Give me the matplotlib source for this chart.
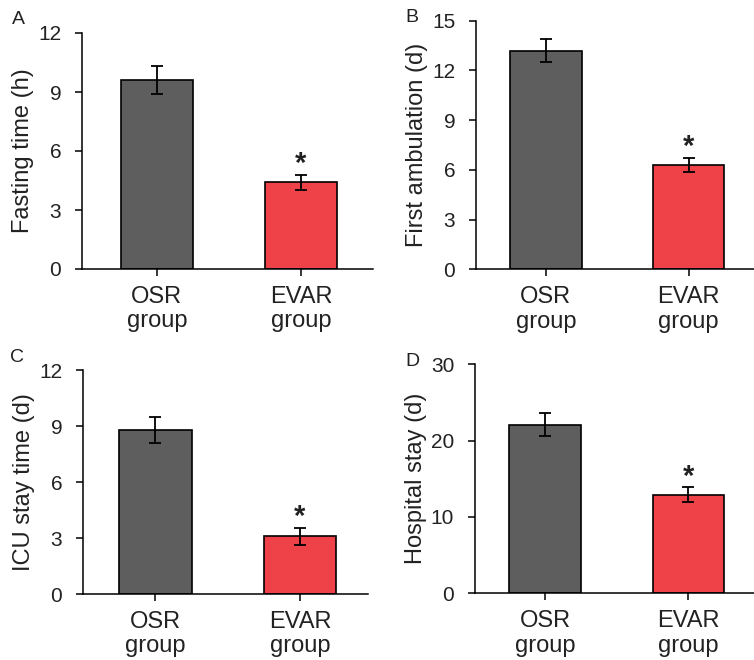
import matplotlib.pyplot as plt

plt.rcParams['font.family'] = ['Liberation Sans', 'DejaVu Sans']

groups = ["OSR\ngroup", "EVAR\ngroup"]
panel_letters = ["A", "B", "C", "D"]
ylabels = ["Fasting time (h)", "First ambulation (d)", "ICU stay time (d)", "Hospital stay (d)"]
means = [[9.6, 4.4], [13.2, 6.3], [8.8, 3.1], [22.1, 12.9]]
errors = [[0.7, 0.4], [0.7, 0.43], [0.7, 0.45], [1.5, 1.0]]
yticks = [[0, 3, 6, 9, 12], [0, 3, 6, 9, 12, 15], [0, 3, 6, 9, 12], [0, 10, 20, 30]]

colors = ["#5e5e5e", "#ee4248"]
txt = "#222222"

# axes rectangles in pixels: left, bottom(y from top), right, top
W, H = 754, 660
boxes = [(82, 269, 373, 33), (476, 269.3, 760, 20.7), (83, 594, 368, 370), (475, 593.3, 760, 364.3)]
xlims = [(-0.52, 1.5), (-0.49, 1.5), (-0.5, 1.47), (-0.49, 1.5)]
letter_pos = [(12, 20), (405, 17), (10, 357), (405, 362)]

fig = plt.figure(figsize=(W / 100, H / 100), dpi=100)

for i in range(4):
    l, b, r, t = boxes[i]
    ax = fig.add_axes([l / W, 1 - b / H, (r - l) / W, (b - t) / H])
    ax.bar([0, 1], means[i], width=0.5, color=colors, edgecolor="black", linewidth=1.2, zorder=2)
    ax.errorbar([0, 1], means[i], yerr=errors[i], fmt="none", ecolor="black",
                elinewidth=1.3, capsize=4, capthick=1.3, zorder=3)
    top = means[i][1] + errors[i][1]
    ax.annotate("*", xy=(1, top), xytext=(0, 7.5), textcoords="offset points",
                ha="center", va="center", fontsize=21, fontweight="bold", color=txt)
    ax.set_ylim(0, yticks[i][-1])
    ax.set_yticks(yticks[i])
    ax.set_xlim(*xlims[i])
    ax.set_xticks([0, 1])
    ax.set_xticklabels(groups, color=txt, fontsize=17, linespacing=1.15)
    ax.tick_params(axis="y", labelsize=15, labelcolor=txt, length=5, width=1.1, pad=10)
    ax.tick_params(axis="x", length=5, width=1.1, pad=7)
    ax.set_ylabel(ylabels[i], fontsize=17, color=txt, labelpad=3)
    for s in ["top", "right"]:
        ax.spines[s].set_visible(False)
    for s in ["left", "bottom"]:
        ax.spines[s].set_linewidth(1.1)
    ax.patch.set_alpha(0)
    fig.text(letter_pos[i][0] / W, 1 - letter_pos[i][1] / H, panel_letters[i],
             fontsize=14, color=txt, ha="left", va="center")

fig.savefig("out.png", dpi=100)
